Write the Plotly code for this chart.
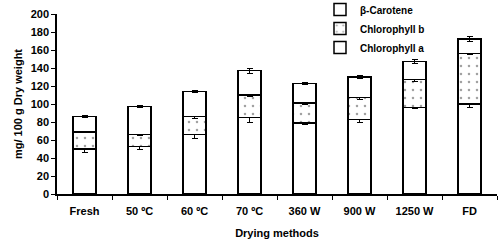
import plotly.graph_objects as go

categories = ["Fresh", "50 ºC", "60 ºC", "70 ºC", "360 W", "900 W", "1250 W", "FD"]
chl_a = [50, 53, 66, 85, 79, 83, 96, 100]
chl_a_err = [4, 4, 4, 5, 2, 3, 1, 4]
chl_b = [19, 13, 20, 25, 22, 24, 31, 56]
chl_b_err = [1, 1.5, 2, 2, 1, 2, 2, 1]
carotene = [17, 31, 28, 27, 22, 23, 20, 16]
carotene_err = [1, 1, 1, 3, 1, 1.5, 2, 3]

FONT = "Arial, Liberation Sans, sans-serif"

def err(vals):
    return dict(type="data", array=vals, visible=True, color="black", thickness=1, width=3)

fig = go.Figure()
fig.add_trace(go.Bar(
    name="Chlorophyll a", x=categories, y=chl_a, error_y=err(chl_a_err),
    marker=dict(color="white", line=dict(color="black", width=1.5)),
))
fig.add_trace(go.Bar(
    name="Chlorophyll b", x=categories, y=chl_b, error_y=err(chl_b_err),
    marker=dict(color="white", line=dict(color="black", width=1.5),
                pattern=dict(shape=".", size=8, solidity=0.08, fgcolor="#444444", bgcolor="white")),
))
fig.add_trace(go.Bar(
    name="β-Carotene", x=categories, y=carotene, error_y=err(carotene_err),
    marker=dict(color="white", line=dict(color="black", width=1.5)),
))

fig.update_layout(
    width=500, height=248,
    barmode="stack", bargap=0.58,
    margin=dict(l=57, r=3, t=14, b=54, autoexpand=False),
    paper_bgcolor="white", plot_bgcolor="white",
    font=dict(family=FONT, size=11, color="black"),
    showlegend=True,
    legend=dict(xref="container", yref="paper", x=0.64, y=1.105,
                xanchor="left", yanchor="top",
                font=dict(family=FONT, size=10, color="black", weight="bold"),
                bgcolor="rgba(0,0,0,0)", itemwidth=30, tracegroupgap=0,
                traceorder="reversed"),
)
fig.update_xaxes(
    showline=True, linecolor="black", linewidth=1.5,
    ticks="outside", ticklen=4, tickcolor="black", tickson="boundaries",
    tickfont=dict(family=FONT, size=11, color="black", weight="bold"),
    ticklabelstandoff=6, automargin=False,
    title=dict(text="Drying methods", font=dict(family=FONT, size=11, color="black", weight="bold"), standoff=13),
    showgrid=False, range=[-0.5, 7.5],
)
fig.update_yaxes(
    range=[0, 200], dtick=20,
    showline=True, linecolor="black", linewidth=1.5,
    ticks="outside", ticklen=4, tickcolor="black",
    tickfont=dict(family=FONT, size=11, color="black", weight="bold"),
    automargin=False,
    title=dict(text="mg/ 100 g Dry weight", font=dict(family=FONT, size=11, color="black", weight="bold"), standoff=6),
    showgrid=False, zeroline=False,
)

fig.write_html("out.html", config={"displayModeBar": False},
               post_script="document.body.style.margin='0';")
